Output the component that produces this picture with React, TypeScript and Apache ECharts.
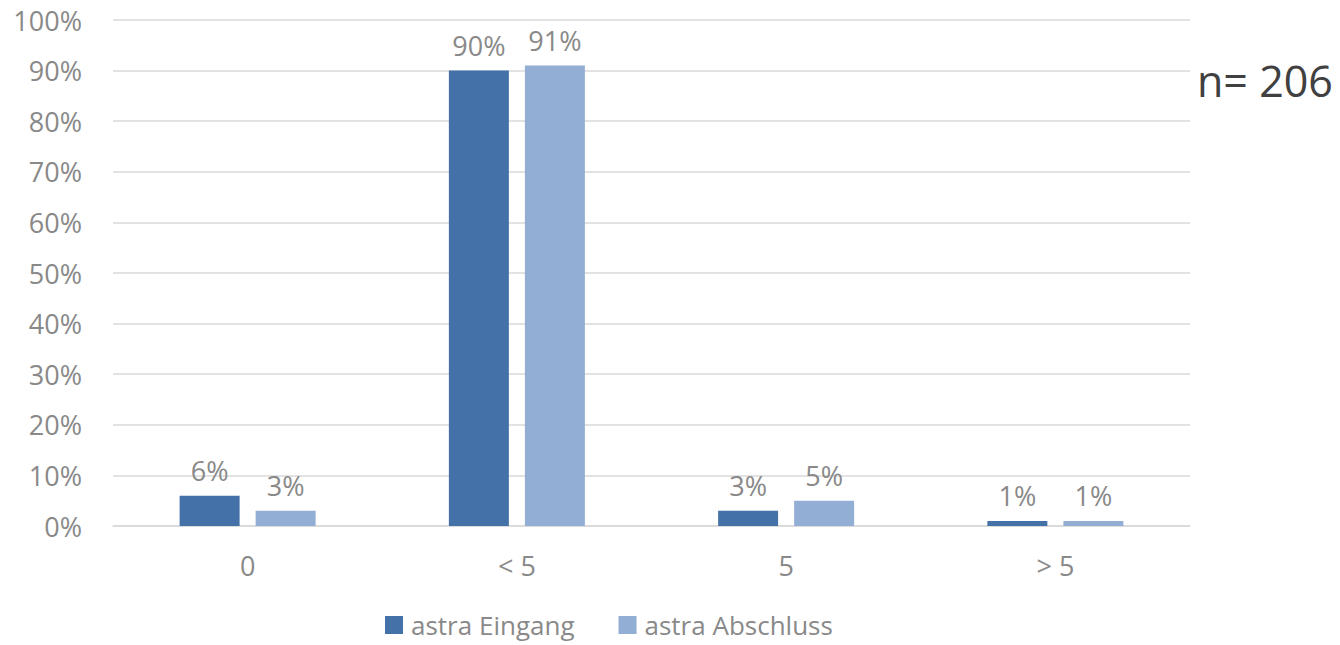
import React, { useEffect, useRef } from "react";
import * as echarts from "echarts";

const categories = ["0", "< 5", "5", "> 5"];
const seriesNames = ["astra Eingang", "astra Abschluss"];
const eingang = [6, 90, 3, 1];
const abschluss = [3, 91, 5, 1];
const colors = ["#4472a8", "#93aed5"];
const noteText = "n= 206";

const FONT = "'Open Sans', 'Noto Sans', sans-serif";
const GRAY = "#898989";
const FS = 27;

export default function App() {
  const ref = useRef<HTMLDivElement>(null);
  useEffect(() => {
    if (!ref.current) return;
    const chart = echarts.init(ref.current, null, { renderer: "svg" });
    const label = {
      show: true,
      position: "top" as const,
      distance: 12,
      color: GRAY,
      fontSize: FS,
      fontFamily: FONT,
      formatter: (p: any) => p.value + "%",
    };
    chart.setOption({
      animation: false,
      backgroundColor: "#ffffff",
      grid: { left: 113, right: 150, top: 20, bottom: 119, containLabel: false },
      legend: {
        top: 607,
        left: 380,
        itemWidth: 18,
        itemHeight: 18,
        itemGap: 44,
        icon: "rect",
        textStyle: { color: GRAY, fontSize: 26, fontFamily: FONT, padding: [0, 0, 0, 3] },
        data: seriesNames,
      },
      xAxis: {
        type: "category",
        data: categories,
        axisLine: { show: true, lineStyle: { color: "#d9d9d9", width: 1.5 } },
        axisTick: { show: false },
        axisLabel: { color: GRAY, fontSize: FS, fontFamily: FONT, margin: 26 },
      },
      yAxis: {
        type: "value",
        min: 0,
        max: 100,
        interval: 10,
        axisLine: { show: false },
        axisTick: { show: false },
        splitLine: { lineStyle: { color: "#d9d9d9", width: 1.5 } },
        axisLabel: {
          color: GRAY,
          fontSize: FS,
          fontFamily: FONT,
          margin: 31,
          formatter: (v: number) => v + "%",
        },
      },
      series: [
        {
          name: seriesNames[0],
          type: "bar",
          data: eingang,
          barWidth: 60,
          barGap: "26.7%",
          itemStyle: { color: colors[0] },
          label,
        },
        {
          name: seriesNames[1],
          type: "bar",
          data: abschluss,
          barWidth: 60,
          itemStyle: { color: colors[1] },
          label,
        },
      ],
      graphic: [
        {
          type: "text",
          x: 1197,
          y: 80,
          style: {
            text: noteText,
            fontSize: 43,
            fontFamily: FONT,
            fill: "#404040",
            verticalAlign: "middle",
            align: "left",
          },
        },
      ],
    });
    return () => chart.dispose();
  }, []);
  return (
    <div
      ref={ref}
      style={{ position: "fixed", left: 0, top: 0, width: 1340, height: 645 }}
    />
  );
}
